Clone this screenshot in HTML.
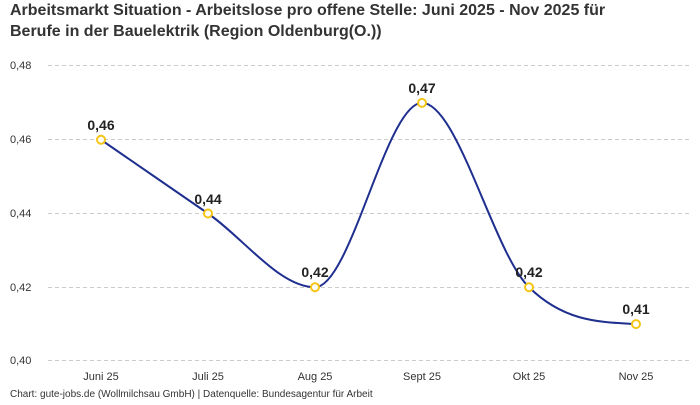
<!DOCTYPE html>
<html><head><meta charset="utf-8"><style>
body{margin:0;background:#fff;width:700px;height:400px;overflow:hidden;font-family:"Liberation Sans",sans-serif}
</style></head><body>
<svg width="700" height="400" xmlns="http://www.w3.org/2000/svg" font-family="Liberation Sans, sans-serif">
<text x="10" y="15" font-size="16" font-weight="bold" fill="#333">Arbeitsmarkt Situation - Arbeitslose pro offene Stelle: Juni 2025 - Nov 2025 für</text>
<text x="10" y="36" font-size="16" font-weight="bold" fill="#333">Berufe in der Bauelektrik (Region Oldenburg(O.))</text>
<g stroke="#ccc" stroke-dasharray="4,3" stroke-width="1">
<line x1="48" x2="690" y1="65.5" y2="65.5"/>
<line x1="48" x2="690" y1="139.5" y2="139.5"/>
<line x1="48" x2="690" y1="213.5" y2="213.5"/>
<line x1="48" x2="690" y1="287.5" y2="287.5"/>
<line x1="48" x2="690" y1="360.5" y2="360.5"/>
</g>
<g font-size="11" fill="#333">
<text x="10" y="69">0,48</text><text x="10" y="143">0,46</text><text x="10" y="217">0,44</text><text x="10" y="291">0,42</text><text x="10" y="364">0,40</text>
</g>
<g font-size="11" fill="#333" text-anchor="middle">
<text x="101" y="380">Juni 25</text><text x="208" y="380">Juli 25</text><text x="315" y="380">Aug 25</text><text x="422" y="380">Sept 25</text><text x="529" y="380">Okt 25</text><text x="636" y="380">Nov 25</text>
</g>
<path d="M101,139.75 C136.67,164.32 172.33,188.93 208,213.5 C243.67,238.07 279.33,287.25 315,287.25 C350.67,287.25 386.33,102.9 422,102.9 C457.67,102.9 493.33,252.3 529,287.25 C564.67,322.2 600.33,322 636,324.1" fill="none" stroke="#1f2f8f" stroke-width="2"/>
<g fill="#fff" stroke="#f5c518" stroke-width="2">
<circle cx="101" cy="139.75" r="4"/><circle cx="208" cy="213.5" r="4"/><circle cx="315" cy="287.25" r="4"/><circle cx="422" cy="102.9" r="4"/><circle cx="529" cy="287.25" r="4"/><circle cx="636" cy="324.1" r="4"/>
</g>
<g font-size="14" font-weight="bold" fill="#222" text-anchor="middle">
<text x="101" y="130">0,46</text><text x="208" y="204">0,44</text><text x="315" y="277">0,42</text><text x="422" y="93">0,47</text><text x="529" y="277">0,42</text><text x="636" y="314">0,41</text>
</g>
<text x="10" y="397" font-size="10" fill="#333">Chart: gute-jobs.de (Wollmilchsau GmbH) | Datenquelle: Bundesagentur für Arbeit</text>
</svg>
</body></html>
